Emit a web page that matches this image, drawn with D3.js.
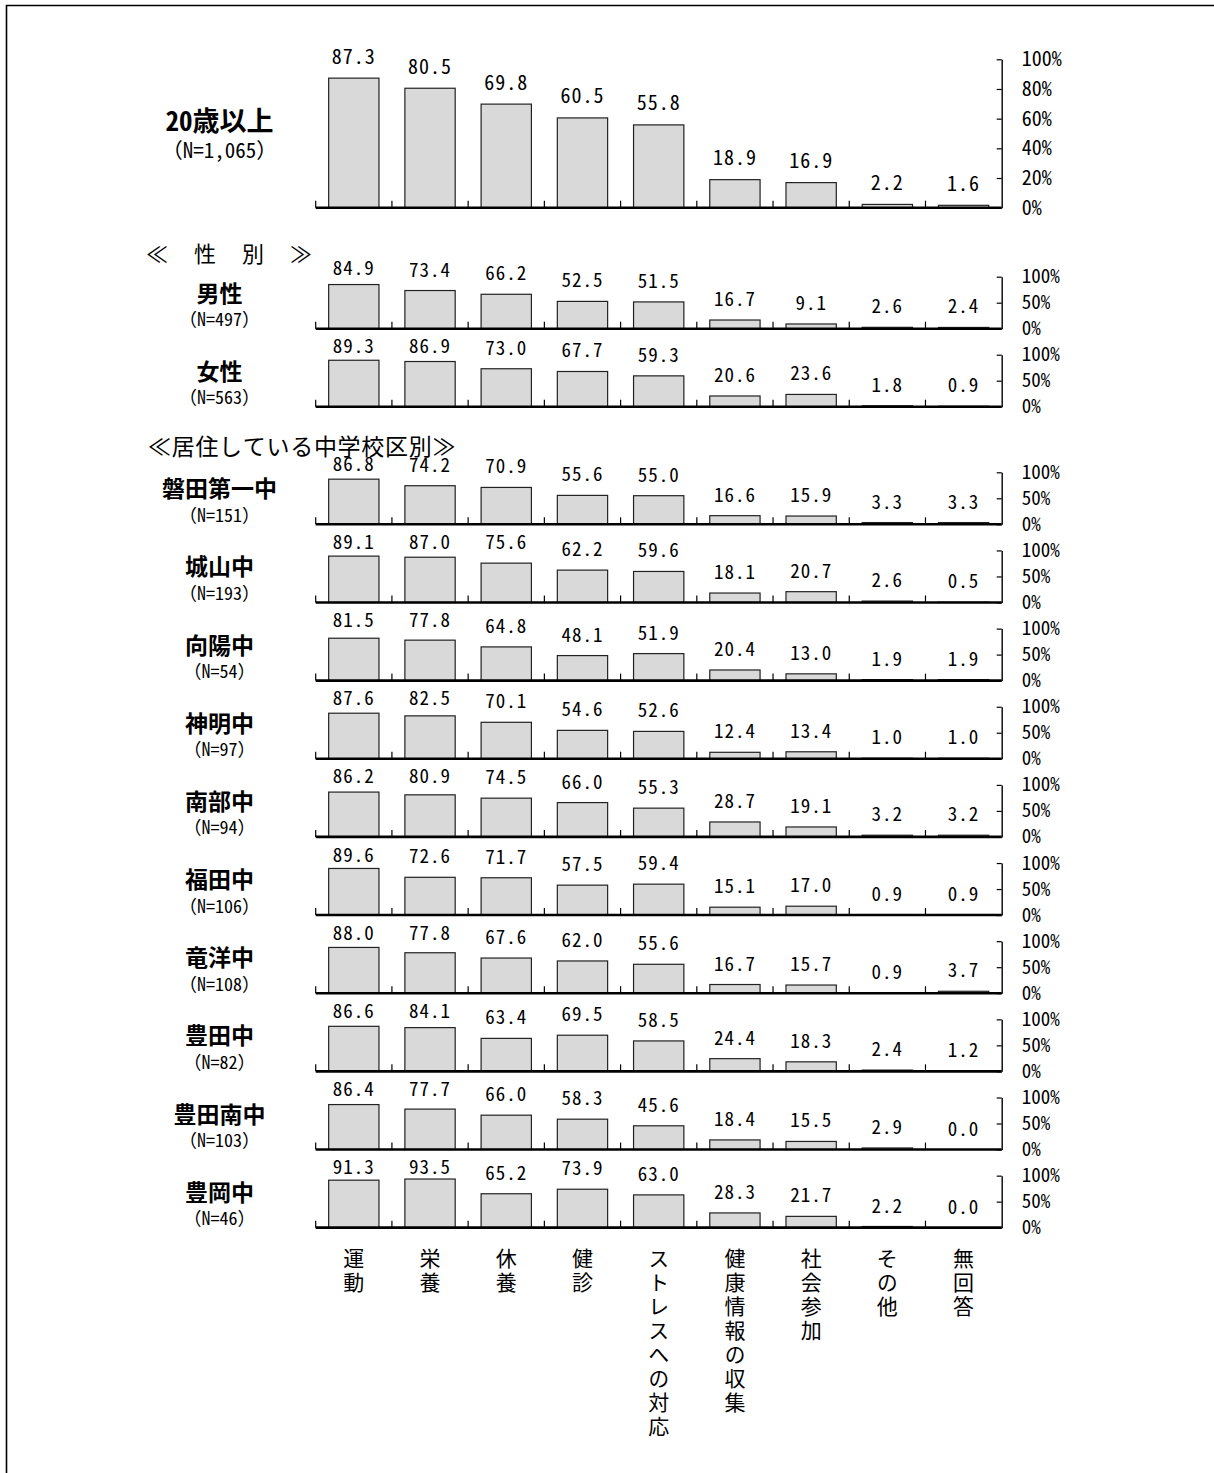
<!DOCTYPE html>
<html>
<head>
<meta charset="utf-8">
<script src="https://cdn.jsdelivr.net/npm/d3@7"></script>
<style>
  html, body { margin: 0; padding: 0; background: #fff; }
  svg text { font-family: "Noto Sans Mono CJK JP", "Noto Sans CJK JP", sans-serif; fill: #000; }
  svg text.cat { writing-mode: vertical-rl; text-orientation: upright; }
</style>
</head>
<body>
<svg id="chart" width="1214" height="1473"></svg>
<script>
// Health activities people are working on, by group (%).
const categories = ["運動", "栄養", "休養", "健診", "ストレスへの対応", "健康情報の収集", "社会参加", "その他", "無回答"];

const overallName = "20歳以上";
const overallN = "1,065";
const overallValues = [87.3, 80.5, 69.8, 60.5, 55.8, 18.9, 16.9, 2.2, 1.6];

const sexHeading = "≪　性　別　≫";
const sexNames = ["男性", "女性"];
const sexN = ["497", "563"];
const sexValues = [
  [84.9, 73.4, 66.2, 52.5, 51.5, 16.7, 9.1, 2.6, 2.4],
  [89.3, 86.9, 73.0, 67.7, 59.3, 20.6, 23.6, 1.8, 0.9]
];

const schoolHeading = "≪居住している中学校区別≫";
const schoolNames = ["磐田第一中", "城山中", "向陽中", "神明中", "南部中", "福田中", "竜洋中", "豊田中", "豊田南中", "豊岡中"];
const schoolN = ["151", "193", "54", "97", "94", "106", "108", "82", "103", "46"];
const schoolValues = [
  [86.8, 74.2, 70.9, 55.6, 55.0, 16.6, 15.9, 3.3, 3.3],
  [89.1, 87.0, 75.6, 62.2, 59.6, 18.1, 20.7, 2.6, 0.5],
  [81.5, 77.8, 64.8, 48.1, 51.9, 20.4, 13.0, 1.9, 1.9],
  [87.6, 82.5, 70.1, 54.6, 52.6, 12.4, 13.4, 1.0, 1.0],
  [86.2, 80.9, 74.5, 66.0, 55.3, 28.7, 19.1, 3.2, 3.2],
  [89.6, 72.6, 71.7, 57.5, 59.4, 15.1, 17.0, 0.9, 0.9],
  [88.0, 77.8, 67.6, 62.0, 55.6, 16.7, 15.7, 0.9, 3.7],
  [86.6, 84.1, 63.4, 69.5, 58.5, 24.4, 18.3, 2.4, 1.2],
  [86.4, 77.7, 66.0, 58.3, 45.6, 18.4, 15.5, 2.9, 0.0],
  [91.3, 93.5, 65.2, 73.9, 63.0, 28.3, 21.7, 2.2, 0.0]
];

const overallTicks = [0, 20, 40, 60, 80, 100];
const groupTicks = [0, 50, 100];

// ---- layout ----
const svg = d3.select("#chart");
const plotLeft = 315.7, plotRight = 1001.7;
const labelCenterX = 219.5;

const x = d3.scaleBand()
  .domain(categories)
  .range([plotLeft, plotRight])
  .paddingInner(0.34)
  .paddingOuter(0.17);
const bw = x.bandwidth();
const edgeOffset = (x.step() - bw) / 2;

// outer frame (top and left edges)
svg.append("path")
  .attr("d", "M6.5,1473 V5.5 H1214")
  .attr("fill", "none")
  .attr("stroke", "#000")
  .attr("stroke-width", 1.6);

function drawPanel(baseline, height, values, ticks, opts) {
  const g = svg.append("g").attr("transform", `translate(0,${baseline})`);
  const y = d3.scaleLinear().domain([0, 100]).range([0, -height]);

  // bars
  g.selectAll("rect.bar")
    .data(categories.map((c, i) => ({ c, v: values[i] })).filter(d => d.v > 0))
    .join("rect")
    .attr("class", "bar")
    .attr("x", d => x(d.c))
    .attr("y", d => y(d.v))
    .attr("width", bw)
    .attr("height", d => y(0) - y(d.v))
    .attr("fill", "#d9d9d9")
    .attr("stroke", "#222")
    .attr("stroke-width", 1.2);

  // value labels above bars
  g.selectAll("text.val")
    .data(categories.map((c, i) => ({ c, v: values[i] })))
    .join("text")
    .attr("class", "val")
    .attr("x", d => x(d.c) + bw / 2)
    .attr("y", d => Math.max(y(d.v) - opts.gap, y(100) - opts.clamp))
    .attr("text-anchor", "middle")
    .attr("dominant-baseline", "central")
    .attr("font-size", opts.valSize)
    .attr("letter-spacing", 1)
    .text(d => d.v.toFixed(1));

  // category boundary ticks
  g.selectAll("line.sep")
    .data(categories)
    .join("line")
    .attr("class", "sep")
    .attr("x1", d => x(d) - edgeOffset)
    .attr("x2", d => x(d) - edgeOffset)
    .attr("y1", 0)
    .attr("y2", -7)
    .attr("stroke", "#000")
    .attr("stroke-width", 1.2);

  // baseline
  g.append("line")
    .attr("x1", plotLeft).attr("x2", plotRight)
    .attr("y1", 0).attr("y2", 0)
    .attr("stroke", "#000")
    .attr("stroke-width", 2.6);

  // right percentage axis
  const axis = d3.axisRight(y)
    .tickValues(ticks)
    .tickSize(-5)
    .tickSizeOuter(0)
    .tickPadding(20)
    .tickFormat(d => d + "%");
  const ag = g.append("g")
    .attr("transform", `translate(${plotRight},0)`)
    .call(axis)
    .attr("font-family", null)
    .attr("font-size", null);
  ag.select(".domain").attr("stroke", "#000").attr("stroke-width", 1.4);
  ag.selectAll(".tick line").attr("stroke", "#000").attr("stroke-width", 1.2);
  ag.selectAll(".tick text")
    .attr("font-size", opts.axisSize)
    .attr("fill", "#000");
  return g;
}

// overall panel
const overallBase = 207.7;
drawPanel(overallBase, 148.4, overallValues, overallTicks, { gap: 23, clamp: 40, valSize: 20, axisSize: 20 });
svg.append("text")
  .attr("x", labelCenterX).attr("y", 119)
  .attr("text-anchor", "middle").attr("dominant-baseline", "central")
  .attr("font-size", 27).attr("font-weight", "bold")
  .text(overallName);
svg.append("text")
  .attr("x", labelCenterX).attr("y", 148.5)
  .attr("text-anchor", "middle").attr("dominant-baseline", "central")
  .attr("font-size", 21)
  .text(`（N=${overallN}）`);

// group panel helper
function drawGroup(baseline, name, n, values) {
  drawPanel(baseline, 52, values, groupTicks, { gap: 22.5, clamp: 10, valSize: 19, axisSize: 19 });
  svg.append("text")
    .attr("x", labelCenterX).attr("y", baseline - 37)
    .attr("text-anchor", "middle").attr("dominant-baseline", "central")
    .attr("font-size", 23).attr("font-weight", "bold")
    .text(name);
  svg.append("text")
    .attr("x", labelCenterX).attr("y", baseline - 10.5)
    .attr("text-anchor", "middle").attr("dominant-baseline", "central")
    .attr("font-size", 18)
    .text(`（N=${n}）`);
}

// sex section
svg.append("text")
  .attr("x", 146).attr("y", 252)
  .attr("dominant-baseline", "central")
  .attr("font-size", 22)
  .attr("letter-spacing", 2)
  .text(sexHeading);
const sexBase0 = 328.7, sexStep = 78;
sexNames.forEach((nm, i) => drawGroup(sexBase0 + i * sexStep, nm, sexN[i], sexValues[i]));

// school district section
svg.append("text")
  .attr("x", 148).attr("y", 445)
  .attr("dominant-baseline", "central")
  .attr("font-size", 23)
  .attr("letter-spacing", 0.7)
  .text(schoolHeading);
const schoolBase0 = 524.3, schoolStep = 78.15;
schoolNames.forEach((nm, i) => drawGroup(schoolBase0 + i * schoolStep, nm, schoolN[i], schoolValues[i]));

// vertical category labels along the bottom
svg.append("g")
  .selectAll("text.cat")
  .data(categories)
  .join("text")
  .attr("class", "cat")
  .attr("x", c => x(c) + bw / 2)
  .attr("y", 1248)
  .attr("font-size", 21)
  .attr("letter-spacing", 3)
  .text(c => c);
</script>
</body>
</html>
